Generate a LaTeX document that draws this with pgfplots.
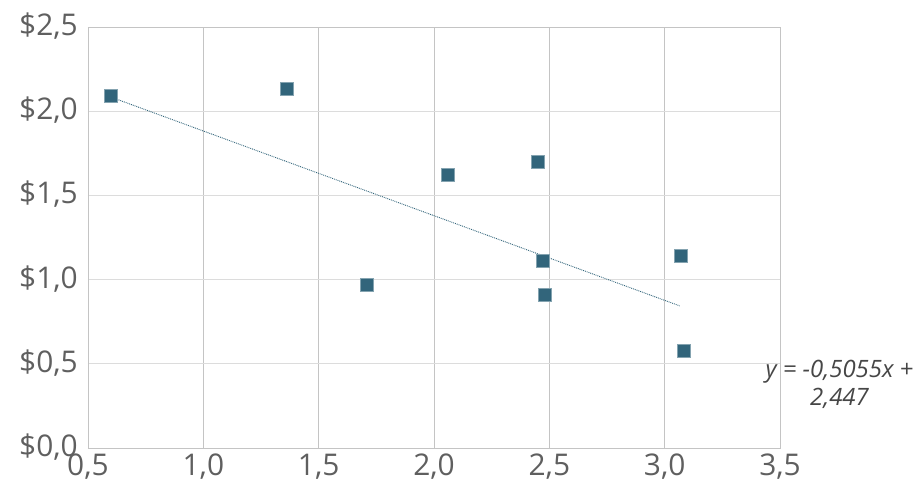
\documentclass[border=0pt]{standalone}
\usepackage{fontspec}
\setmainfont{Open Sans}
\usepackage{pgfplots}
\pgfplotsset{compat=1.18}
\definecolor{teal1}{RGB}{50,101,123}
\definecolor{ticktxt}{RGB}{95,95,95}
\definecolor{eqtxt}{RGB}{70,70,70}
\definecolor{vgrid}{RGB}{196,196,196}
\definecolor{hgrid}{RGB}{220,220,220}

\begin{document}
\begin{tikzpicture}[x=1bp,y=1bp]
    % fixes the page to the reference size, axis box at (0,0)
    \path[use as bounding box] (-88,-35) rectangle (831,448);
    \begin{axis}[
        scale only axis,
        width=692bp, height=421bp,
        xmin=0.5, xmax=3.5,
        ymin=0, ymax=2.5,
        xtick={0.5,1,...,3.5},
        ytick={0,0.5,...,2.5},
        major tick length=0pt,
        xmajorgrids=true,
        ymajorgrids=true,
        x grid style={vgrid, line width=0.9bp},
        y grid style={hgrid, line width=0.9bp},
        axis line style={draw=vgrid, line width=0.9bp},
        tick label style={font=\fontsize{30}{32}\selectfont, text=ticktxt, inner sep=1bp},
        /pgf/number format/.cd, use comma, fixed, fixed zerofill, precision=1, assume math mode=true,
        /pgfplots/.cd,
        yticklabel={\$\pgfmathprintnumber{\tick}},
        yticklabel style={xshift=-9bp, yshift=1bp},
        xticklabel style={yshift=-5bp},
        clip=false,
    ]

    % scatter points
    \addplot[only marks, mark=square*, mark size=6.5bp,
        mark options={fill=teal1, draw=teal1!60!white, line width=0.5bp}]
        coordinates {
        (0.600,2.090)(1.361,2.131)(1.709,0.967)(2.060,1.621)(2.451,1.700)
        (2.470,1.111)(2.480,0.909)(3.071,1.139)(3.081,0.577)
        };

    % linear trend line
    \addplot[teal1, densely dotted, line width=0.9bp]
        coordinates {(0.617,2.075)(3.065,0.844)};

    \node[align=center, text=eqtxt, font=\fontsize{24}{28}\selectfont\itshape]
        at (axis cs:3.758,0.38) {y = -0,5055x +\\2,447};
    \end{axis}
\end{tikzpicture}
\end{document}
